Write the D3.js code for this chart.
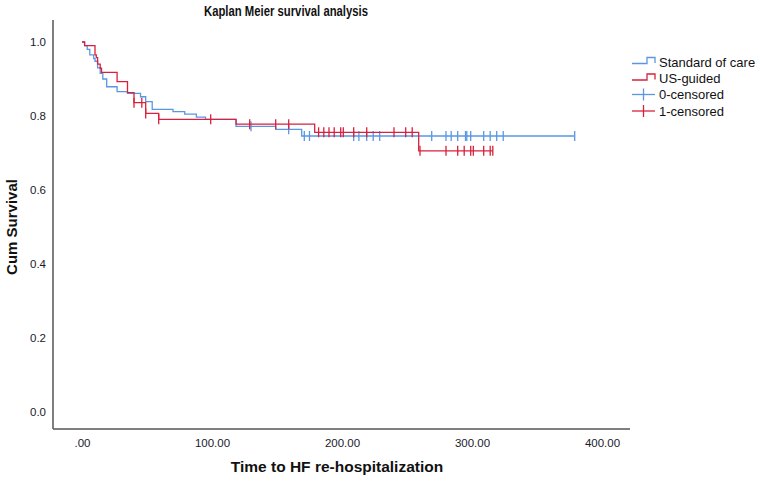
<!DOCTYPE html>
<html><head><meta charset="utf-8">
<script src="https://cdn.jsdelivr.net/npm/d3@7"></script>
<style>
html,body{margin:0;padding:0;background:#fff;}
svg{display:block;font-family:"Liberation Sans",Arial,sans-serif;}
</style></head>
<body>
<svg id="c" width="760" height="481"></svg>
<script>
// ---- data ----
const xTicks = [0, 100, 200, 300, 400];
const xTickLabels = [".00", "100.00", "200.00", "300.00", "400.00"];
const yTicks = [0, 0.2, 0.4, 0.6, 0.8, 1.0];
const yTickLabels = ["0.0", "0.2", "0.4", "0.6", "0.8", "1.0"];

const seriesNames = ["Standard of care", "US-guided"];
const legendLabels = ["Standard of care", "US-guided", "0-censored", "1-censored"];

const socTimes = [0, 2, 4, 6, 9, 10, 12, 14, 16, 19, 27, 35, 45, 49, 54, 70, 79, 88, 95, 118.5, 149, 169, 379];
const socSurv  = [1, 0.99, 0.98, 0.965, 0.955, 0.948, 0.93, 0.915, 0.9, 0.879, 0.866, 0.861, 0.852, 0.839, 0.818, 0.812, 0.805, 0.797, 0.791, 0.772, 0.764, 0.746, 0.746];
const socCensored = [130, 159, 171, 175, 209, 213, 219, 224, 229, 269, 280, 284, 289, 295, 296, 299, 309, 314, 319, 324, 379];

const usTimes = [0, 2, 10, 11, 12, 14, 15, 27, 35, 40, 49, 59, 118.5, 179, 259, 316];
const usSurv  = [1, 0.99, 0.965, 0.958, 0.94, 0.929, 0.918, 0.893, 0.863, 0.836, 0.807, 0.791, 0.778, 0.756, 0.706, 0.706];
const usCensored = [40, 46, 49, 59, 99, 129, 149, 159, 182, 186, 190, 194, 199, 201, 209, 219, 240, 249, 254, 260, 280, 289, 294, 299, 301, 309, 314, 316];

const colors = ["#5a97e3", "#d8213d"];

// ---- drawing ----
const svg = d3.select("#c");
const x = d3.scaleLinear().domain([0, 400]).range([82, 602]);
const y = d3.scaleLinear().domain([0, 1]).range([412, 42]);

// axes lines
svg.append("line").attr("x1", 53).attr("x2", 53).attr("y1", 20).attr("y2", 429)
  .attr("stroke", "#555").attr("stroke-width", 1.5);
svg.append("line").attr("x1", 53).attr("x2", 630).attr("y1", 429).attr("y2", 429)
  .attr("stroke", "#555").attr("stroke-width", 1.5);

const xAxis = d3.axisBottom(x).tickValues(xTicks).tickSize(0)
  .tickFormat((d, i) => xTickLabels[i]);
const gx = svg.append("g").attr("transform", "translate(0,429)").call(xAxis);
gx.select(".domain").remove();
gx.selectAll("text").attr("dy", "0").attr("y", 17.5).attr("font-size", "11.5px")
  .attr("fill", "#1a1a2a").attr("font-family", "Liberation Sans, Arial, sans-serif");

const yAxis = d3.axisLeft(y).tickValues(yTicks).tickSize(0)
  .tickFormat((d, i) => yTickLabels[i]);
const gy = svg.append("g").attr("transform", "translate(53,0)").call(yAxis);
gy.select(".domain").remove();
gy.selectAll("text").attr("x", -7).attr("font-size", "11.5px")
  .attr("fill", "#1a1a2a").attr("font-family", "Liberation Sans, Arial, sans-serif");

// titles
svg.append("text").attr("transform", "translate(286,16) scale(0.78,1)").attr("text-anchor", "middle")
  .attr("font-weight", "bold").attr("font-size", "14.5px").attr("fill", "#111")
  .text("Kaplan Meier survival analysis");
svg.append("text").attr("x", 337).attr("y", 472).attr("text-anchor", "middle")
  .attr("font-weight", "bold").attr("font-size", "15.5px").attr("fill", "#111")
  .text("Time to HF re-hospitalization");
svg.append("text").attr("transform", "translate(17,227) rotate(-90)").attr("text-anchor", "middle")
  .attr("font-weight", "bold").attr("font-size", "15px").attr("fill", "#111")
  .text("Cum Survival");

// curves
const series = [
  {times: socTimes, surv: socSurv, cens: socCensored, color: colors[0]},
  {times: usTimes, surv: usSurv, cens: usCensored, color: colors[1]}
];
const line = d3.line().x(d => x(d[0])).y(d => y(d[1])).curve(d3.curveStepAfter);
function survAt(s, t) {
  let v = s.surv[0];
  for (let i = 0; i < s.times.length; i++) { if (s.times[i] <= t) v = s.surv[i]; }
  return v;
}
series.forEach(s => {
  const pts = s.times.map((t, i) => [t, s.surv[i]]);
  svg.append("path").attr("d", line(pts)).attr("fill", "none")
    .attr("stroke", s.color).attr("stroke-width", 1.3);
  svg.append("g").selectAll("line").data(s.cens).join("line")
    .attr("x1", d => x(d)).attr("x2", d => x(d))
    .attr("y1", d => y(survAt(s, d)) - 5).attr("y2", d => y(survAt(s, d)) + 5)
    .attr("stroke", s.color).attr("stroke-width", 1.3);
});

// legend
const lg = svg.append("g");
const rowsY = [62, 78.5, 94.5, 111];
legendLabels.forEach((lab, i) => {
  const yy = rowsY[i];
  const col = colors[i % 2];
  if (i < 2) {
    lg.append("path").attr("d", `M632,${yy + 1.5}H647V${yy - 4.5}H655V${yy + 1}`)
      .attr("fill", "none").attr("stroke", col).attr("stroke-width", 1.3);
  } else {
    lg.append("line").attr("x1", 632).attr("x2", 655).attr("y1", yy).attr("y2", yy)
      .attr("stroke", col).attr("stroke-width", 1.3);
    lg.append("line").attr("x1", 643.5).attr("x2", 643.5).attr("y1", yy - 6).attr("y2", yy + 6)
      .attr("stroke", col).attr("stroke-width", 1.3);
  }
  lg.append("text").attr("x", 659).attr("y", yy + 4.5).attr("font-size", "13px")
    .attr("fill", "#111").text(lab);
});
</script>
</body></html>
